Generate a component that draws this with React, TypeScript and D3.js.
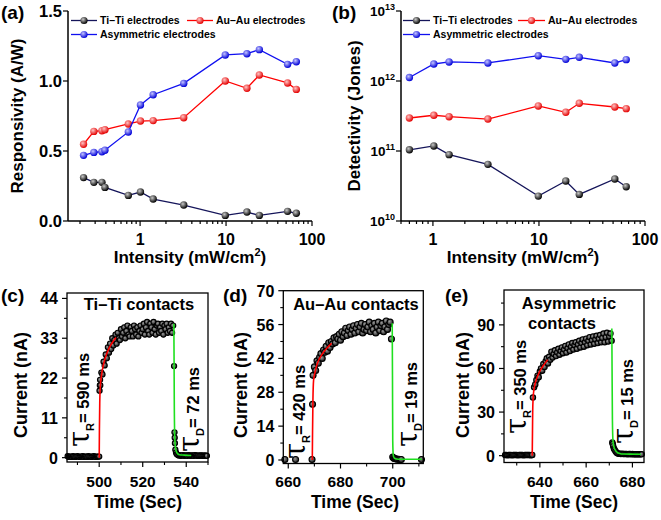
import React from "react";
import * as d3 from "d3";

const FONT = "'Liberation Sans', Arial, sans-serif";

// ---- (a) responsivity vs intensity ----
const intensityA = [0.22, 0.29, 0.36, 0.39, 0.73, 1.01, 1.42, 3.22, 9.8, 17.5, 24.4, 52, 65.7];
const respTiTi = [0.31, 0.276, 0.276, 0.24, 0.183, 0.207, 0.157, 0.114, 0.04, 0.064, 0.04, 0.069, 0.055];
const respAuAu = [0.548, 0.64, 0.645, 0.652, 0.693, 0.714, 0.717, 0.738, 1.0, 0.948, 1.043, 0.986, 0.94];
const respAsym = [0.469, 0.49, 0.495, 0.505, 0.636, 0.829, 0.902, 0.983, 1.186, 1.195, 1.224, 1.119, 1.138];
const respTicks = [0, 0.5, 1.0, 1.5];

// ---- (b) detectivity vs intensity ----
const intensityB = [0.6, 1.02, 1.42, 3.3, 9.86, 17.9, 24, 51.9, 66.5];
const detTiTi = [1.04e11, 1.18e11, 8.87e10, 6.45e10, 2.27e10, 3.73e10, 2.4e10, 3.98e10, 3.09e10];
const detAuAu = [2.96e11, 3.24e11, 3.09e11, 2.86e11, 4.4e11, 3.57e11, 4.8e11, 4.25e11, 4.03e11];
const detAsym = [1.12e12, 1.75e12, 1.87e12, 1.81e12, 2.3e12, 2.04e12, 2.18e12, 1.81e12, 2.02e12];
const detExponents = [10, 11, 12, 13];

const legendNames = ["Ti\u2013Ti electrodes", "Au\u2013Au electrodes", "Asymmetric electrodes"];

// ---- (c) Ti-Ti transient, sampled every 0.5 s ----
const STEP = 0.5;
const tiTiPreStart = 485.5;
const tiTiPre = [0.4, 0.2, 0.3, 0.3, 0.2, 0.4, 0.3, 0.2, 0.3, 0.4, 0.3, 0.2, 0.3, 0.3, 0.4, 0.2, 0.3, 0.3, 0.2, 0.4, 0.3, 0.3, 0.2, 0.3, 0.4, 0.3, 0.2, 0.3, 0.3];
const tiTiEdgeT = [500, 500.15, 500.3, 500.4];
const tiTiEdgeI = [0.3, 18.5, 20, 21.5];
const tiTiOnStart = 500.5;
const tiTiOn = [20, 23.5, 23, 26.5, 25.5, 28.5, 27.5, 30.5, 29, 31.5, 30, 33, 31, 32.5, 34, 31.5, 34.5, 33, 32.5, 35.5, 33.5, 34.5, 36, 33, 35, 36.5, 34, 33.5, 36, 35, 33.5, 36.5, 35.5, 34, 36, 33.5, 35, 36.5, 34.5, 35.5, 37, 34, 36, 37.5, 35, 34, 37, 36, 34.5, 37.5, 35.5, 34, 36.5, 37, 34.5, 36, 35, 37, 34, 36.5, 35.5, 37, 34.5, 36, 35, 37, 34.5, 36.5];
const tiTiFallT = [534.4, 534.6, 534.7, 534.8, 535, 535.3, 535.6];
const tiTiFallI = [25.3, 7, 5.5, 4, 2.2, 1.4, 1.0];
const tiTiTailStart = 536;
const tiTiTail = [0.8, 0.6, 0.7, 0.5, 0.6, 0.7, 0.5, 0.6, 0.6, 0.5, 0.7, 0.6, 0.5, 0.6, 0.6, 0.5, 0.7, 0.6, 0.5, 0.6, 0.5, 0.6, 0.6, 0.5, 0.6, 0.5, 0.6, 0.5];
const tiTiRiseFitT = [500, 500.1, 500.25, 500.5, 501, 501.7, 502.5, 503.5, 504.5, 505.5, 506.5, 507.7];
const tiTiRiseFitI = [0, 8, 15, 19.6, 22.5, 25, 27, 28.8, 30.2, 31.3, 32.2, 33.2];
const tiTiFallFitT = [534.3, 534.4, 534.5, 534.7, 535, 535.5, 536.2, 537, 539, 542.3];
const tiTiFallFitI = [37, 28, 16, 6, 3, 1.6, 1, 0.8, 0.7, 0.6];

// ---- (d) Au-Au transient ----
const auAuPreT = [658.7, 662.8, 669.1];
const auAuPreI = [0.2, 0.2, 0.2];
const auAuEdgeT = [669.3];
const auAuEdgeI = [23];
const auAuOnStart = 669.5;
const auAuOn = [35, 38.5, 37, 41, 40, 42.5, 44, 42, 45.5, 44.5, 47, 45, 48.5, 46.5, 49, 48, 50.5, 48.5, 51, 50, 52, 49.5, 53, 51, 52.5, 54.5, 51.5, 53.5, 55, 52, 54, 55.5, 52.5, 54.5, 56, 53, 55, 56.5, 52.5, 54, 56, 53.5, 55, 57, 53, 55.5, 54, 56.5, 52.5, 55, 57, 53.5, 55.5, 56.5, 53, 55, 57.5, 54, 56, 57, 50];
const auAuFallT = [700, 700.3, 700.6, 701, 701.4, 701.8, 702.3, 702.8, 703.3, 711];
const auAuFallI = [1.2, 0.8, 0.6, 0.5, 0.4, 0.3, 0.3, 0.2, 0.2, 0.2];
const auAuRiseFitT = [669.2, 669.3, 669.45, 669.7, 670.2, 671, 672, 673, 674, 675, 676, 676.6];
const auAuRiseFitI = [0, 12, 25, 33, 36, 39.5, 42, 43.8, 45.3, 46.5, 47.6, 48.2];
const auAuFallFitT = [699.8, 699.9, 700, 700.2, 700.6, 701.5, 703, 711.1];
const auAuFallFitI = [56.5, 35, 8, 2, 0.8, 0.4, 0.3, 0.3];

// ---- (e) asymmetric transient ----
const asymPreStart = 625;
const asymPre = [0.4, 0.5, 0.3, 0.4, 0.5, 0.4, 0.3, 0.5, 0.4, 0.4, 0.5, 0.3, 0.4, 0.5, 0.4, 0.4, 0.3, 0.5, 0.4, 0.4, 0.5, 0.4, 0.3, 0.4];
const asymEdgeT = [636.7];
const asymEdgeI = [0.5];
const asymOnStart = 637;
const asymOn = [40, 47, 49, 52, 55, 54, 58, 60, 58.5, 63, 61, 65, 67, 63.5, 68, 66, 71.5, 67.5, 70, 72.5, 68.5, 71, 73.5, 69.5, 72, 74.5, 70.5, 73, 75.5, 71, 74, 76.5, 72, 75, 77.5, 73, 76, 78, 73.5, 76.5, 79, 74.5, 77.5, 80, 75, 78, 80.5, 76, 79, 81.5, 76.5, 79.5, 82, 77, 80, 82.5, 77.5, 80.5, 83, 78, 81, 84, 78, 81.5, 84.5, 78.5, 82, 84, 79];
const asymFallT = [671.3, 671.5, 671.7, 672, 672.3, 672.7, 673.1, 673.5, 674];
const asymFallI = [9, 8, 6.5, 5, 4, 3, 2.2, 1.7, 1.4];
const asymTailStart = 674.5;
const asymTail = [1.3, 1.2, 1.3, 1.1, 1.2, 1.1, 1.2, 1.0, 1.1, 1.1, 1.0, 1.1, 1.0, 0.9, 1.0, 1.0, 0.9, 1.0, 0.9, 0.9];
const asymRiseFitT = [636.7, 636.8, 636.9, 637.1, 637.4, 637.8, 638.5, 639.5, 640.5, 641.5, 642.5, 643.4];
const asymRiseFitI = [0, 15, 30, 40, 45, 48.5, 52.5, 56.5, 59.5, 62, 64.2, 66];
const asymFallFitT = [671.1, 671.2, 671.35, 671.6, 672, 672.6, 673.4, 674.5, 676, 683.7];
const asymFallFitI = [87.5, 60, 25, 10, 6, 3.8, 2.3, 1.5, 1.1, 1];

type P = [number, number];
const pairs = (t: number[], v: number[]): P[] => t.map((d, i) => [d, v[i]]);
const sampled = (t0: number, v: number[]): P[] => v.map((d, i) => [t0 + i * STEP, d]);

const sphere = [
  { id: "gBlack", light: "#c8c8c8", dark: "#000000", line: "#15155a" },
  { id: "gRed", light: "#ffc4c4", dark: "#e40000", line: "#ff0000" },
  { id: "gBlue", light: "#c4c4ff", dark: "#0000d8", line: "#1010f0" },
];

function Legend({ x1, x2, col2 }: { x1: number; x2: number; col2: number }) {
  const rows = [
    { x: x1, y: 20.5, s: sphere[0], name: legendNames[0] },
    { x: col2, y: 20.5, s: sphere[1], name: legendNames[1] },
    { x: x1, y: 34.5, s: sphere[2], name: legendNames[2] },
  ];
  return (
    <g>
      {rows.map((r) => (
        <g key={r.name}>
          <line x1={r.x} x2={r.x + x2} y1={r.y} y2={r.y} stroke={r.s.line} strokeWidth={1.3} />
          <circle cx={r.x + x2 / 2} cy={r.y} r={3.6} fill={`url(#${r.s.id})`} />
          <text x={r.x + x2 + 3} y={r.y + 3.8} fontSize={10.5} fontWeight="bold">{r.name}</text>
        </g>
      ))}
    </g>
  );
}

function IntensityTitle({ cx }: { cx: number }) {
  return (
    <text x={cx} y={263} textAnchor="middle" fontSize={17} fontWeight="bold">
      Intensity (mW/cm<tspan dy={-7} fontSize={11}>2</tspan><tspan dy={7}>)</tspan>
    </text>
  );
}

function LogXAxis({ x, y0 }: { x: d3.ScaleLogarithmic<number, number>; y0: number }) {
  const ticks = x.ticks();
  return (
    <g>
      {ticks.map((t) => {
        const major = Math.abs(Math.log10(t) - Math.round(Math.log10(t))) < 1e-9;
        return (
          <g key={t}>
            <line x1={x(t)} x2={x(t)} y1={y0} y2={y0 + (major ? 5 : 3)} stroke="#000" strokeWidth={1.2} />
            {major && (
              <text x={x(t)} y={y0 + 24} textAnchor="middle" fontSize={16} fontWeight="bold">{t}</text>
            )}
          </g>
        );
      })}
    </g>
  );
}

function PanelA() {
  const L = 68, R = 312, T = 11, B = 221;
  const x = d3.scaleLog().domain([0.145, 100]).range([L, R]);
  const y = d3.scaleLinear().domain([0, 1.5]).range([B, T]);
  const series = [respTiTi, respAuAu, respAsym];
  const line = d3.line<number>().x((_, i) => x(intensityA[i])).y((d) => y(d));
  return (
    <g>
      {series.map((s, k) => (
        <g key={k}>
          <path d={line(s) || ""} fill="none" stroke={sphere[k].line} strokeWidth={1.3} />
          {s.map((d, i) => (
            <circle key={i} cx={x(intensityA[i])} cy={y(d)} r={3.7} fill={`url(#${sphere[k].id})`} />
          ))}
        </g>
      ))}
      <line x1={L} x2={L} y1={T} y2={B} stroke="#000" strokeWidth={1.5} />
      <line x1={L} x2={R} y1={B} y2={B} stroke="#000" strokeWidth={1.5} />
      {respTicks.map((t) => (
        <g key={t}>
          <line x1={L - 5} x2={L} y1={y(t)} y2={y(t)} stroke="#000" strokeWidth={1.2} />
          <text x={L - 6} y={y(t) + 6} textAnchor="end" fontSize={16.5} fontWeight="bold">{t.toFixed(1)}</text>
        </g>
      ))}
      <LogXAxis x={x} y0={B} />
      <Legend x1={71} x2={26} col2={187} />
      <text transform={`translate(23,116) rotate(-90)`} textAnchor="middle" fontSize={17} fontWeight="bold">Responsivity (A/W)</text>
      <IntensityTitle cx={190} />
      <text x={1} y={19} fontSize={19} fontWeight="bold">(a)</text>
    </g>
  );
}

function PanelB() {
  const L = 401, R = 645, T = 11, B = 221;
  const x = d3.scaleLog().domain([0.5, 100]).range([L, R]);
  const y = d3.scaleLog().domain([1e10, 1e13]).range([B, T]);
  const series = [detTiTi, detAuAu, detAsym];
  const line = d3.line<number>().x((_, i) => x(intensityB[i])).y((d) => y(d));
  return (
    <g>
      {series.map((s, k) => (
        <g key={k}>
          <path d={line(s) || ""} fill="none" stroke={sphere[k].line} strokeWidth={1.3} />
          {s.map((d, i) => (
            <circle key={i} cx={x(intensityB[i])} cy={y(d)} r={3.7} fill={`url(#${sphere[k].id})`} />
          ))}
        </g>
      ))}
      <line x1={L} x2={L} y1={T} y2={B} stroke="#000" strokeWidth={1.5} />
      <line x1={L} x2={R} y1={B} y2={B} stroke="#000" strokeWidth={1.5} />
      {detExponents.map((e) => {
        const yy = y(Math.pow(10, e));
        return (
          <g key={e}>
            <line x1={L - 5} x2={L} y1={yy} y2={yy} stroke="#000" strokeWidth={1.2} />
            <text x={L - 6} y={yy + 5} textAnchor="end" fontSize={13.5} fontWeight="bold">
              10<tspan dy={-6} fontSize={9}>{e}</tspan>
            </text>
          </g>
        );
      })}
      <LogXAxis x={x} y0={B} />
      <Legend x1={403} x2={27} col2={518} />
      <text transform={`translate(360,116) rotate(-90)`} textAnchor="middle" fontSize={17} fontWeight="bold">Detectivity (Jones)</text>
      <IntensityTitle cx={523} />
      <text x={332} y={19} fontSize={19} fontWeight="bold">(b)</text>
    </g>
  );
}

interface TransientProps {
  box: [number, number, number, number];
  xDomain: [number, number];
  yDomain: [number, number];
  xTicks: number[];
  xMinor: number[];
  yTicks: number[];
  yMinor: number[];
  points: P[];
  rise: P[];
  fall: P[];
  r: number;
}

function Transient({ box, xDomain, yDomain, xTicks, xMinor, yTicks, yMinor, points, rise, fall, r }: TransientProps) {
  const [L, R, T, B] = box;
  const x = d3.scaleLinear().domain(xDomain).range([L, R]);
  const y = d3.scaleLinear().domain(yDomain).range([B, T]);
  const line = d3.line<P>().x((d) => x(d[0])).y((d) => y(d[1])).curve(d3.curveMonotoneX);
  return (
    <g>
      {points.map((p, i) => (
        <circle key={i} cx={x(p[0])} cy={y(p[1])} r={r} fill="url(#gDot)" stroke="#000" strokeWidth={1.1} />
      ))}
      <path d={line(rise) || ""} fill="none" stroke="#ff0000" strokeWidth={1.6} />
      <path d={line(fall) || ""} fill="none" stroke="#1fe01f" strokeWidth={1.6} />
      <rect x={L} y={T} width={R - L} height={B - T} fill="none" stroke="#000" strokeWidth={1.3} />
      {yTicks.map((t) => (
        <g key={t}>
          <line x1={L - 5} x2={L} y1={y(t)} y2={y(t)} stroke="#000" strokeWidth={1.2} />
          <text x={L - 9} y={y(t) + 6} textAnchor="end" fontSize={16} fontWeight="bold">{t}</text>
        </g>
      ))}
      {yMinor.map((t) => (
        <line key={t} x1={L - 3} x2={L} y1={y(t)} y2={y(t)} stroke="#000" strokeWidth={1.1} />
      ))}
      {xTicks.map((t) => (
        <g key={t}>
          <line x1={x(t)} x2={x(t)} y1={B} y2={B + 5} stroke="#000" strokeWidth={1.2} />
          <text x={x(t)} y={487} textAnchor="middle" fontSize={15.5} fontWeight="bold">{t}</text>
        </g>
      ))}
      {xMinor.map((t) => (
        <line key={t} x1={x(t)} x2={x(t)} y1={B} y2={B + 3} stroke="#000" strokeWidth={1.1} />
      ))}
    </g>
  );
}

function Tau({ x, y, sub, label }: { x: number; y: number; sub: string; label: string }) {
  return (
    <text transform={`translate(${x},${y}) rotate(-90)`} fontWeight="bold" fontSize={16.5}>
      <tspan fontSize={29} fontWeight="normal" fontFamily="'DejaVu Serif', serif">τ</tspan>
      <tspan fontSize={11} dy={5}>{sub}</tspan>
      <tspan dy={-5}>= {label}</tspan>
    </text>
  );
}

export default function App() {
  const tiTiPts = [
    ...sampled(tiTiPreStart, tiTiPre),
    ...pairs(tiTiEdgeT, tiTiEdgeI),
    ...sampled(tiTiOnStart, tiTiOn),
    ...pairs(tiTiFallT, tiTiFallI),
    ...sampled(tiTiTailStart, tiTiTail),
  ];
  const auAuPts = [
    ...pairs(auAuPreT, auAuPreI),
    ...pairs(auAuEdgeT, auAuEdgeI),
    ...sampled(auAuOnStart, auAuOn),
    ...pairs(auAuFallT, auAuFallI),
  ];
  const asymPts = [
    ...sampled(asymPreStart, asymPre),
    ...pairs(asymEdgeT, asymEdgeI),
    ...sampled(asymOnStart, asymOn),
    ...pairs(asymFallT, asymFallI),
    ...sampled(asymTailStart, asymTail),
  ];
  return (
    <svg width={661} height={520} style={{ position: "absolute", left: 0, top: 0, background: "#fff" }} fontFamily={FONT}>
      <defs>
        {sphere.map((s) => (
          <radialGradient key={s.id} id={s.id} cx="38%" cy="35%" r="65%">
            <stop offset="0" stopColor={s.light} />
            <stop offset="1" stopColor={s.dark} />
          </radialGradient>
        ))}
        <radialGradient id="gDot" cx="40%" cy="38%" r="65%">
          <stop offset="0" stopColor="#9a9a9a" />
          <stop offset="1" stopColor="#151515" />
        </radialGradient>
      </defs>
      <PanelA />
      <PanelB />

      <Transient
        box={[67, 208, 293, 462]}
        xDomain={[485.2, 550]}
        yDomain={[-1.2, 45.5]}
        xTicks={[500, 520, 540]}
        xMinor={[490, 510, 530, 550]}
        yTicks={[0, 11, 22, 33, 44]}
        yMinor={[5.5, 16.5, 27.5, 38.5]}
        points={tiTiPts}
        rise={pairs(tiTiRiseFitT, tiTiRiseFitI)}
        fall={pairs(tiTiFallFitT, tiTiFallFitI)}
        r={2.6}
      />
      <Transient
        box={[283.3, 423.3, 290.7, 463.5]}
        xDomain={[658.1, 711.7]}
        yDomain={[-1.45, 70]}
        xTicks={[660, 680, 700]}
        xMinor={[670, 690, 710]}
        yTicks={[0, 14, 28, 42, 56, 70]}
        yMinor={[7, 21, 35, 49, 63]}
        points={auAuPts}
        rise={pairs(auAuRiseFitT, auAuRiseFitI)}
        fall={pairs(auAuFallFitT, auAuFallFitI)}
        r={3}
      />
      <Transient
        box={[504, 644, 290, 462.5]}
        xDomain={[624.5, 685]}
        yDomain={[-4.7, 114]}
        xTicks={[640, 660, 680]}
        xMinor={[630, 650, 670]}
        yTicks={[0, 30, 60, 90]}
        yMinor={[15, 45, 75, 105]}
        points={asymPts}
        rise={pairs(asymRiseFitT, asymRiseFitI)}
        fall={pairs(asymFallFitT, asymFallFitI)}
        r={2.7}
      />

      <text x={139} y={310} textAnchor="middle" fontSize={16.5} fontWeight="bold">Ti–Ti contacts</text>
      <text x={356} y={310} textAnchor="middle" fontSize={16.5} fontWeight="bold">Au–Au contacts</text>
      <text x={569} y={309} textAnchor="middle" fontSize={16.5} fontWeight="bold">Asymmetric</text>
      <text x={562} y={329} textAnchor="middle" fontSize={16.5} fontWeight="bold">contacts</text>

      <Tau x={89} y={447} sub="R" label="590 ms" />
      <Tau x={199} y={452} sub="D" label="72 ms" />
      <Tau x={305} y={459} sub="R" label="420 ms" />
      <Tau x={417} y={447} sub="D" label="19 ms" />
      <Tau x={526} y={434} sub="R" label="350 ms" />
      <Tau x={633} y={444} sub="D" label="15 ms" />

      {[27, 247, 469].map((cx) => (
        <text key={cx} transform={`translate(${cx},385) rotate(-90)`} textAnchor="middle" fontSize={18} fontWeight="bold">Current (nA)</text>
      ))}
      <text x={1} y={302} fontSize={19} fontWeight="bold">(c)</text>
      <text x={223} y={302} fontSize={19} fontWeight="bold">(d)</text>
      <text x={445} y={302} fontSize={19} fontWeight="bold">(e)</text>
      {[138, 355, 574].map((cx) => (
        <text key={cx} x={cx} y={508} textAnchor="middle" fontSize={17.5} fontWeight="bold">Time (Sec)</text>
      ))}
    </svg>
  );
}
